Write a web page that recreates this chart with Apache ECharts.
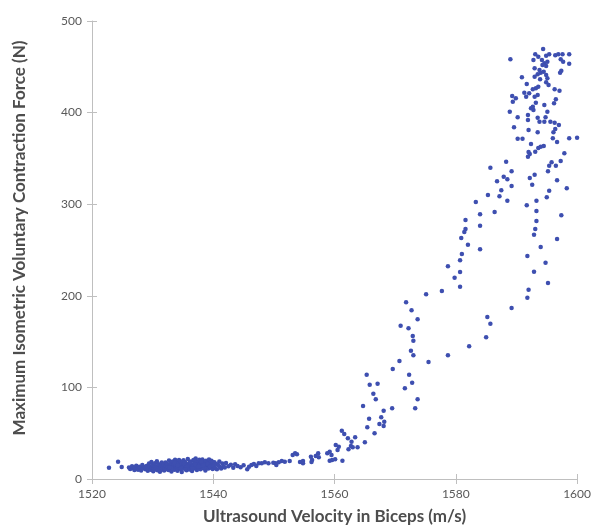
<!DOCTYPE html>
<html>
<head>
<meta charset="utf-8">
<script src="https://cdn.jsdelivr.net/npm/echarts@6/dist/echarts.min.js"></script>
<style>
html,body{margin:0;padding:0;background:#fff;}
#chart{width:594px;height:530px;}
</style>
</head>
<body>
<div id="chart"></div>
<script>
// ---- Data (velocity m/s, force N) ----
const xTitle = 'Ultrasound Velocity in Biceps (m/s)';
const yTitle = 'Maximum Isometric Voluntary Contraction Force (N)';
const xRange = [1520, 1600, 20];
const yRange = [0, 500, 100];

const baselinePoints = [
[1522.8,12.3],[1524.3,18.9],[1524.9,13.1],
[1526.1,12.5],[1526.3,10.8],[1526.6,13.9],[1526.8,11.6],[1527.0,9.8],[1527.1,12.9],[1527.3,14.6],[1527.5,11.2],[1527.6,10.1],[1527.8,13.4],[1528.0,12.1],[1528.1,9.4],[1528.3,15.2],[1528.4,11.7],[1528.6,13.0],[1528.8,10.6],[1528.9,12.4],[1529.0,14.1],
[1529.2,9.0],[1529.3,11.5],[1529.4,16.8],[1529.5,13.3],[1529.7,10.2],[1529.8,18.5],[1529.9,12.6],[1530.0,15.1],[1530.1,8.4],[1530.2,11.9],[1530.3,14.3],[1530.4,17.2],[1530.5,10.7],[1530.6,12.8],[1530.7,19.4],[1530.8,9.6],[1530.9,13.7],[1531.0,16.0],[1531.1,11.3],[1531.2,7.9],[1531.3,14.8],[1531.4,12.2],[1531.5,17.9],[1531.6,10.4],[1531.7,13.1],[1531.8,15.6],[1531.9,9.2],[1532.0,12.0],[1532.1,18.1],[1532.2,14.0],[1532.3,11.0],[1532.4,16.4],
[1532.5,13.2],[1532.6,9.7],[1532.7,20.1],[1532.8,15.4],[1532.9,11.6],[1533.0,17.3],[1533.1,8.3],[1533.2,13.9],[1533.3,19.0],[1533.4,12.4],[1533.5,15.9],[1533.6,10.1],[1533.7,21.0],[1533.8,14.5],[1533.9,11.8],[1534.0,17.8],[1534.1,9.1],[1534.2,13.5],[1534.3,16.6],[1534.4,12.7],[1534.5,19.7],[1534.6,10.9],[1534.7,14.9],[1534.8,7.6],[1534.9,17.0],[1535.0,12.2],[1535.1,20.6],[1535.2,15.3],[1535.3,11.1],[1535.4,18.4],[1535.5,13.6],[1535.6,9.5],[1535.7,16.2],[1535.8,21.8],[1535.9,12.9],[1536.0,14.7],[1536.1,10.3],[1536.2,19.2],[1536.3,16.9],[1536.4,12.5],[1536.5,8.8],[1536.6,15.0],[1536.7,20.4],[1536.8,13.8],[1536.9,17.5],[1537.0,11.4],[1537.1,22.3],[1537.2,14.2],[1537.3,9.9],[1537.4,18.8],[1537.5,16.1],[1537.6,12.6],[1537.7,20.9],[1537.8,15.5],[1537.9,10.6],[1538.0,17.7],[1538.1,13.3],[1538.2,21.4],[1538.3,11.9],[1538.4,19.5],[1538.5,14.4],[1538.6,16.7],[1538.7,9.3],[1538.8,20.0],[1538.9,13.0],[1539.0,18.2],[1539.1,15.8],[1539.2,11.5],[1539.3,21.2],[1539.4,14.1],[1539.5,17.4],[1539.6,12.3],[1539.7,19.9],[1539.8,16.3],[1539.9,10.8],
[1533.05,12.0],[1533.55,17.6],[1534.15,14.8],[1534.65,11.5],[1535.15,16.8],[1535.65,13.0],[1536.15,18.0],[1536.55,11.7],[1537.05,15.6],[1537.55,13.4],[1538.05,19.1],[1538.55,12.1],[1539.05,16.5],[1539.45,13.6],[1539.85,18.6],[1532.75,12.8],[1534.35,20.8],[1535.45,10.5],[1536.85,21.1],[1538.35,15.1],
[1540.0,14.6],[1540.2,18.3],[1540.3,12.0],[1540.5,16.4],[1540.6,10.7],[1540.8,15.2],[1541.0,19.0],[1541.1,13.2],[1541.3,11.4],[1541.5,16.9],[1541.7,14.0],[1541.9,12.6],[1542.1,17.5],
[1542.5,13.8],[1542.9,15.6],[1543.3,12.4],[1543.6,16.2],[1544.0,14.1],[1544.5,12.9],[1545.0,15.0],
[1545.6,10.6],[1545.9,13.5],[1546.3,15.3],[1546.7,16.4],[1547.1,14.2],[1547.5,17.1]
];

const rampPoints = [
[1564.7,79.7],[1568.1,74.6],[1569.5,77.2],[1573.3,77.2],[1565.7,65.8],[1567.7,67.4],[1567.4,60.0],[1568.2,62.6],[1568.1,57.9],[1565.4,56.4],[1566.6,49.9],[1561.2,52.7],[1561.6,49.1],[1562.2,44.4],[1563.4,45.5],[1562.8,40.7],[1562.7,36.0],[1563.0,34.6],[1563.8,34.6],[1565.0,40.1],[1562.3,32.4],[1560.7,35.3],[1560.5,31.7],[1560.2,37.1],[1559.2,29.8],[1558.8,28.1],[1559.6,20.7],[1560.1,21.5],[1559.2,20.0],[1561.3,20.0],[1559.5,26.2],[1557.3,28.1],[1556.9,25.1],[1557.4,23.7],[1556.1,24.3],[1556.3,20.7],[1556.2,18.6],[1554.8,19.7],[1554.3,18.6],[1554.8,17.1],[1553.8,27.0],[1553.5,28.1],[1553.1,26.2],[1552.6,19.7],[1551.8,18.9],[1551.3,19.7],[1550.8,18.2],[1550.3,17.1],[1549.9,17.8],[1549.1,17.1],[1548.5,18.2],[1548.0,17.1],[1550.4,15.3]
];

const leftBandPoints = [
[1585.7,339.8],[1588.3,346.4],[1589.2,335.9],[1586.8,325.0],[1587.9,330.0],[1588.5,327.2],[1589.2,319.9],[1587.5,315.2],[1585.3,310.0],[1587.2,308.6],[1588.5,303.8],[1583.3,302.4],[1586.4,291.5],[1584.0,289.0],[1581.6,282.8],[1584.0,276.5],[1581.6,272.9],[1581.4,269.7],[1580.9,263.1],[1582.0,255.8],[1584.0,250.8],[1581.0,245.6],[1580.7,238.8],[1578.7,232.2],[1580.7,226.0],[1579.8,219.8],[1580.7,209.9],[1577.7,205.2],[1575.1,201.6],[1571.8,192.9],[1572.7,184.2],[1573.7,174.3],[1570.9,167.4],[1572.2,164.5],[1572.9,156.1],[1573.0,151.0],[1572.6,140.1],[1573.0,135.0],[1570.7,128.8],[1575.5,127.7],[1578.7,135.0],[1582.2,144.9],[1585.0,154.7],[1585.7,169.5],[1585.2,176.9],[1589.2,186.7],[1569.6,120.1],[1565.3,113.9],[1572.3,113.9],[1565.8,102.9],[1567.1,104.0],[1571.6,99.0],[1572.8,105.1],[1566.4,93.1],[1566.8,87.0],[1573.7,87.0]
];

const rightColumnPoints = [
[1591.9,351.9],[1592.2,354.8],[1593.1,357.3],[1597.9,355.6],[1595.4,342.0],[1595.8,345.7],[1596.5,342.0],[1597.3,347.2],[1595.2,335.9],[1592.2,328.6],[1593.0,332.2],[1596.7,326.1],[1592.6,321.3],[1598.3,317.4],[1595.4,314.7],[1595.0,307.5],[1593.3,303.8],[1591.7,298.8],[1593.3,292.6],[1597.4,287.9],[1593.3,281.7],[1593.1,272.9],[1592.9,266.7],[1596.7,262.0],[1594.0,253.3],[1591.8,243.4],[1594.8,236.1],[1592.9,226.3],[1595.2,214.0],[1592.0,206.7],[1591.8,197.9]
];

const plateauPoints = [
[1594.4,469.4],[1589.0,458.2],[1593.1,463.6],[1593.6,461.0],[1592.8,457.4],[1594.9,462.1],[1595.4,463.6],[1596.4,462.6],[1596.9,463.6],[1597.6,463.6],[1598.7,463.6],[1597.3,458.2],[1597.7,455.6],[1598.7,453.4],[1594.2,457.4],[1594.6,453.8],[1595.1,455.6],[1594.3,452.0],[1594.9,450.9],[1593.0,448.4],[1593.8,446.5],[1594.0,443.6],[1593.5,441.8],[1594.5,444.7],[1594.9,441.0],[1597.4,445.7],[1597.2,443.6],[1590.9,438.5],[1593.0,439.2],[1593.9,436.4],[1595.1,437.4],[1594.9,433.1],[1591.7,431.2],[1595.3,430.1],[1593.6,428.3],[1593.2,426.5],[1592.7,425.4],[1596.3,425.4],[1597.1,423.9],[1591.3,421.7],[1592.1,421.1],[1593.5,419.2],[1589.3,418.1],[1589.9,415.6],[1589.4,411.9],[1591.6,417.4],[1593.0,417.4],[1596.5,414.5],[1593.2,410.8],[1596.2,410.2],[1594.6,408.3],[1592.4,404.7],[1592.8,402.8],[1592.7,406.4],[1595.1,401.0],[1588.9,401.0],[1591.9,397.4],[1590.2,394.9],[1593.5,394.4],[1594.8,394.9],[1591.9,391.9],[1593.8,390.1],[1594.6,390.1],[1595.6,390.1],[1596.3,389.0],[1597.0,386.5],[1589.6,384.0],[1592.0,381.0],[1593.5,378.5],[1596.4,382.1],[1596.1,378.5],[1600.0,372.6],[1590.2,371.5],[1591.0,371.5],[1596.0,371.9],[1598.7,371.9],[1592.4,365.7],[1593.6,361.4],[1594.0,362.8],[1594.5,363.5],[1596.7,367.9],[1592.0,357.0]
];

const allPoints = [].concat(baselinePoints, rampPoints, leftBandPoints, rightColumnPoints, plateauPoints);

const FONT = 'Lato';
const axisGray = '#bfbfbf';
const labelGray = '#595959';

const chart = echarts.init(document.getElementById('chart'), null, {renderer: 'canvas'});
chart.setOption({
  animation: false,
  backgroundColor: '#ffffff',
  grid: {left: 92, right: 14, top: 21, bottom: 51, containLabel: false},
  xAxis: [{
    type: 'value', position: 'bottom',
    min: xRange[0], max: xRange[1], interval: xRange[2],
    name: xTitle, nameLocation: 'middle', nameGap: 29,
    nameTextStyle: {fontFamily: FONT, fontWeight: 'bold', fontSize: 17, color: '#4d4d4d'},
    axisLine: {show: true, lineStyle: {color: axisGray, width: 1}},
    axisTick: {show: true, length: 5, lineStyle: {color: axisGray}},
    axisLabel: {fontFamily: FONT, fontSize: 12, color: labelGray, margin: 9,
      formatter: function (v) { return String(v); }},
    splitLine: {show: false}
  }, {
    type: 'value', position: 'bottom',
    min: xRange[0], max: xRange[1], interval: xRange[2],
    axisLine: {show: false},
    axisTick: {show: true, inside: true, length: 5, lineStyle: {color: axisGray}},
    axisLabel: {show: false},
    splitLine: {show: false}
  }],
  yAxis: [{
    type: 'value', position: 'left',
    min: yRange[0], max: yRange[1], interval: yRange[2],
    name: yTitle, nameLocation: 'middle', nameGap: 64,
    nameTextStyle: {fontFamily: FONT, fontWeight: 'bold', fontSize: 17, color: '#4d4d4d', padding: [0, 0, 0, 24]},
    axisLine: {show: true, lineStyle: {color: axisGray, width: 1}},
    axisTick: {show: true, length: 5, lineStyle: {color: axisGray}},
    axisLabel: {fontFamily: FONT, fontSize: 12, color: labelGray, margin: 10,
      formatter: function (v) { return String(v); }},
    splitLine: {show: false}
  }, {
    type: 'value', position: 'left',
    min: yRange[0], max: yRange[1], interval: yRange[2],
    axisLine: {show: false},
    axisTick: {show: true, inside: true, length: 5, lineStyle: {color: axisGray}},
    axisLabel: {show: false},
    splitLine: {show: false}
  }],
  series: [{
    type: 'scatter',
    xAxisIndex: 0, yAxisIndex: 0,
    data: allPoints,
    symbol: 'circle',
    symbolSize: 4.5,
    itemStyle: {color: '#3e4fb0', opacity: 1}
  }]
});
</script>
</body>
</html>
